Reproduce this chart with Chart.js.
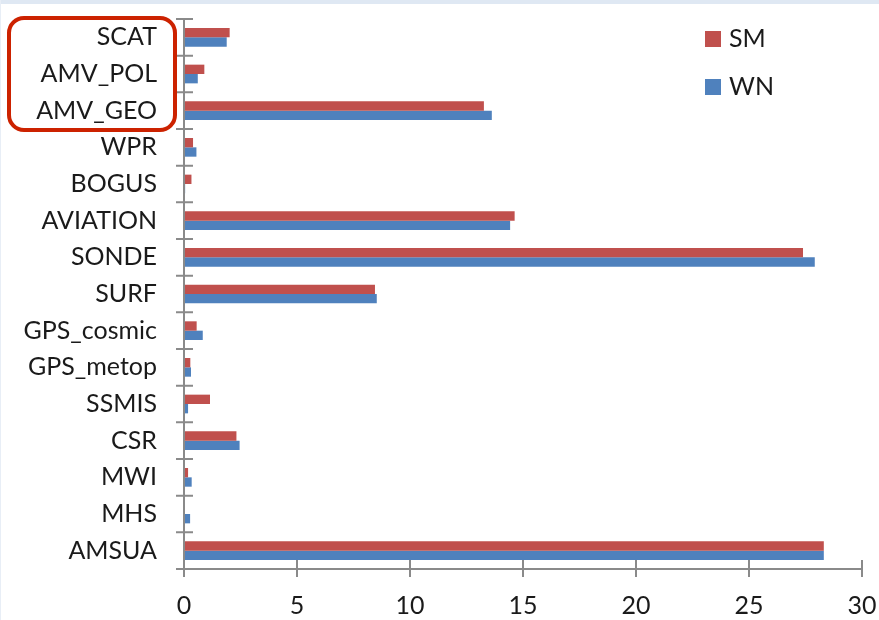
<!DOCTYPE html>
<html>
<head>
<meta charset="utf-8">
<script src="https://cdn.jsdelivr.net/npm/chart.js@4.4.1/dist/chart.umd.min.js"></script>
<style>
  html, body { margin: 0; padding: 0; background: #ffffff; }
  #wrap { position: relative; width: 879px; height: 620px; }
  canvas { display: block; }
</style>
</head>
<body>
<div id="wrap"><canvas id="c" width="879" height="620"></canvas></div>
<script>
// Observation types, top to bottom
const categories = ['SCAT', 'AMV_POL', 'AMV_GEO', 'WPR', 'BOGUS', 'AVIATION', 'SONDE',
  'SURF', 'GPS_cosmic', 'GPS_metop', 'SSMIS', 'CSR', 'MWI', 'MHS', 'AMSUA'];

// Share per observation type for each run
const smValues = [2.02, 0.90, 13.27, 0.40, 0.33, 14.63, 27.39, 8.45, 0.56, 0.28, 1.15, 2.32, 0.18, 0.04, 28.31];
const wnValues = [1.89, 0.61, 13.62, 0.55, 0.05, 14.43, 27.91, 8.53, 0.83, 0.31, 0.18, 2.46, 0.34, 0.27, 28.31];

const seriesNames = ['SM', 'WN'];
const xTicks = [0, 5, 10, 15, 20, 25, 30];

const FONT = 'Lato, "Noto Sans", sans-serif';
const TEXT = '#1a1a1a';
const AXIS = '#8a8a8a';

// Axis lines with tick marks that cross the line on both sides
const axesPlugin = {
  id: 'crossAxes',
  afterDatasetsDraw(chart) {
    const { ctx, chartArea: a, scales: { x } } = chart;
    ctx.save();
    ctx.strokeStyle = AXIS;
    ctx.lineWidth = 2;
    ctx.beginPath();
    ctx.moveTo(a.left, a.top);
    ctx.lineTo(a.left, a.bottom);
    ctx.moveTo(a.left, a.bottom);
    ctx.lineTo(a.right, a.bottom);
    // category boundaries on the y axis
    const n = categories.length;
    for (let i = 0; i <= n; i++) {
      const py = a.top + (a.bottom - a.top) * i / n;
      ctx.moveTo(a.left - 8, py);
      ctx.lineTo(a.left + 9, py);
    }
    // value ticks on the x axis
    xTicks.forEach(v => {
      const px = x.getPixelForValue(v);
      ctx.moveTo(px, a.bottom - 9);
      ctx.lineTo(px, a.bottom + 8);
    });
    ctx.stroke();
    ctx.restore();
  }
};

// Legend in the upper right corner of the plot
const legendPlugin = {
  id: 'cornerLegend',
  afterDraw(chart) {
    const { ctx } = chart;
    ctx.save();
    ctx.font = '25px ' + FONT;
    ctx.textBaseline = 'middle';
    ctx.textAlign = 'left';
    chart.data.datasets.forEach((ds, i) => {
      const top = 31 + i * 48;
      ctx.fillStyle = ds.backgroundColor;
      ctx.fillRect(705, top, 16, 16);
      ctx.fillStyle = TEXT;
      ctx.fillText(ds.label, 729, top + 8);
    });
    ctx.restore();
  }
};

// Frame band along the top edge and the highlight around the wind groups
const framePlugin = {
  id: 'frame',
  beforeDraw(chart) {
    const { ctx } = chart;
    ctx.save();
    ctx.fillStyle = '#dfe8f3';
    ctx.fillRect(0, 0, chart.width, 4);
    ctx.fillStyle = '#e8eef6';
    ctx.fillRect(0, 0, 1, chart.height);
    ctx.restore();
  },
  afterDraw(chart) {
    const { ctx, chartArea: a } = chart;
    const n = categories.length;
    const step = (a.bottom - a.top) / n;
    const x0 = 9, x1 = 175;
    const y0 = a.top - 1, y1 = a.top + step * 3 + 1;
    const r = 15;
    ctx.save();
    ctx.strokeStyle = '#cc2200';
    ctx.lineWidth = 4;
    ctx.beginPath();
    ctx.moveTo(x0 + r, y0);
    ctx.lineTo(x1 - r, y0);
    ctx.arcTo(x1, y0, x1, y0 + r, r);
    ctx.lineTo(x1, y1 - r);
    ctx.arcTo(x1, y1, x1 - r, y1, r);
    ctx.lineTo(x0 + r, y1);
    ctx.arcTo(x0, y1, x0, y1 - r, r);
    ctx.lineTo(x0, y0 + r);
    ctx.arcTo(x0, y0, x0 + r, y0, r);
    ctx.closePath();
    ctx.stroke();
    ctx.restore();
  }
};

function noEdgePadding(scale) {
  scale.paddingTop = 0;
  scale.paddingBottom = 0;
  scale.paddingLeft = 0;
  scale.paddingRight = 0;
}

new Chart(document.getElementById('c'), {
  type: 'bar',
  data: {
    labels: categories,
    datasets: [
      { label: seriesNames[0], data: smValues, backgroundColor: '#C0504D' },
      { label: seriesNames[1], data: wnValues, backgroundColor: '#4F81BD' }
    ]
  },
  options: {
    indexAxis: 'y',
    responsive: false,
    animation: false,
    devicePixelRatio: 1,
    layout: { padding: { top: 19, right: 17, left: 0, bottom: 0 } },
    datasets: { bar: { categoryPercentage: 0.51, barPercentage: 1.0 } },
    plugins: { legend: { display: false }, tooltip: { enabled: false } },
    scales: {
      x: {
        min: 0, max: 30,
        afterBuildTicks(scale) { scale.ticks = xTicks.map(v => ({ value: v })); },
        grid: { display: false, drawTicks: false },
        border: { display: false },
        ticks: { color: TEXT, font: { family: FONT, size: 25 }, padding: 22, maxRotation: 0 },
        afterFit(scale) { scale.height = 51; noEdgePadding(scale); }
      },
      y: {
        grid: { display: false, drawTicks: false, offset: true },
        border: { display: false },
        ticks: { color: TEXT, font: { family: FONT, size: 25 }, padding: 27, autoSkip: false },
        afterFit(scale) { scale.width = 184; noEdgePadding(scale); }
      }
    }
  },
  plugins: [framePlugin, axesPlugin, legendPlugin]
});
</script>
</body>
</html>
